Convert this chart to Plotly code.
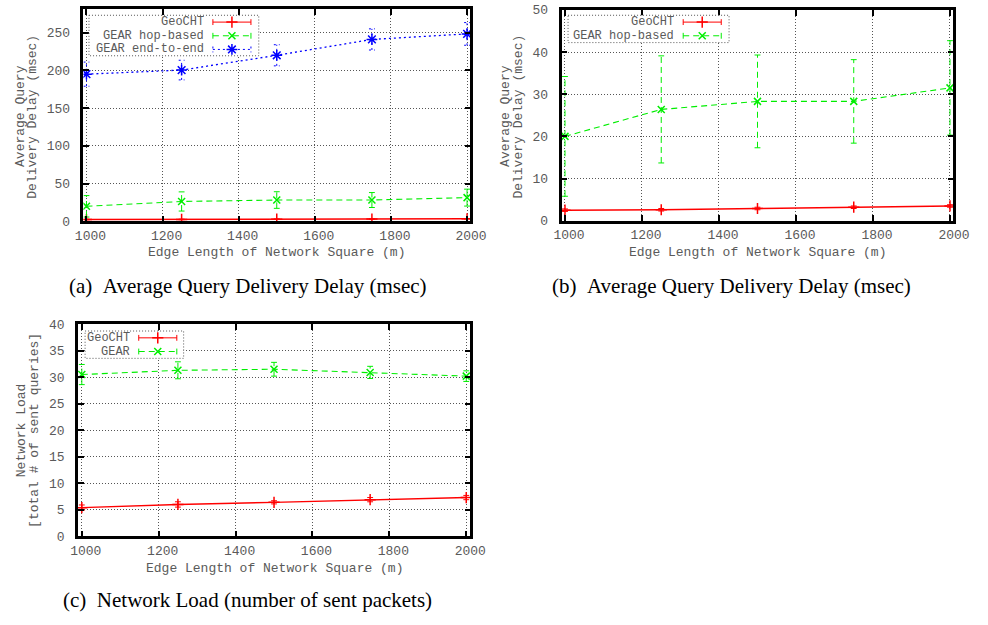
import plotly.graph_objects as go

# ---- data ----------------------------------------------------------------
edge_length = [1000, 1250, 1500, 1750, 2000]
x_tick_vals = [1000, 1200, 1400, 1600, 1800, 2000]

geocht_delay = [2.5, 2.6, 2.9, 3.2, 3.5]
geocht_delay_err = [0.3, 0.3, 0.3, 0.3, 0.3]
gear_hop_delay = [20.0, 26.4, 28.3, 28.3, 31.5]
gear_hop_delay_err = [14.2, 12.7, 11.0, 9.9, 11.2]
gear_e2e_delay = [195.0, 200.4, 220.0, 241.0, 248.3]
gear_e2e_delay_err = [16.0, 13.0, 14.0, 14.0, 15.0]

geocht_load = [5.4, 6.0, 6.4, 6.9, 7.3]
geocht_load_err = [0.5, 0.5, 0.3, 0.4, 0.4]
gear_load = [30.5, 31.3, 31.5, 30.9, 30.2]
gear_load_err = [1.9, 1.6, 1.3, 1.15, 1.0]

y_ticks_a = [0, 50, 100, 150, 200, 250]
y_ticks_b = [0, 10, 20, 30, 40, 50]
y_ticks_c = [0, 5, 10, 15, 20, 25, 30, 35, 40]

# ---- styling ---------------------------------------------------------------
W, H = 988, 625
MONO = "Liberation Mono, Courier New, monospace"
SERIF = "Liberation Serif, Times New Roman, serif"
TXT = "#5a5a5a"
GRID = "#555555"
GRID_DASH = "1px,2px"

RED, GREEN, BLUE = "#ff0000", "#00ee00", "#0000ff"
STYLE = {
    "geocht": dict(color=RED, dash="solid", width=1.4, symbol="cross-thin", size=8),
    "hop": dict(color=GREEN, dash="6px,4px", width=1.1, symbol="x-thin", size=7),
    "e2e": dict(color=BLUE, dash="2px,3px", width=1.3, symbol="asterisk", size=9),
}

# panel frames in pixels: left, right, top, bottom + data ranges
PANELS = {
    "a": dict(l=77.3, r=474.0, t=3.3, b=220.7, xr=[992, 2009], yr=[0, 281], yt=y_ticks_a),
    "b": dict(l=567.3, r=969.0, t=4.0, b=220.0, xr=[991, 2009], yr=[0, 50], yt=y_ticks_b),
    "c": dict(l=71.7, r=474.0, t=326.0, b=543.3, xr=[990, 2011], yr=[0, 40], yt=y_ticks_c),
}
AXES = {"a": ("x", "y"), "b": ("x2", "y2"), "c": ("x3", "y3")}


def fx(px):
    return px / W


def fy(py):
    return 1 - py / H


fig = go.Figure()


def add_series(panel, xs, ys, errs, key, name):
    st = STYLE[key]
    xa, ya = AXES[panel]
    p = PANELS[panel]
    cap = 3.0 * (p["xr"][1] - p["xr"][0]) / (p["r"] - p["l"])
    ex, ey = [], []
    for x, y, e in zip(xs, ys, errs):
        ex += [x, x, None, x - cap, x + cap, None, x - cap, x + cap, None]
        ey += [y - e, y + e, None, y - e, y - e, None, y + e, y + e, None]
    fig.add_trace(go.Scatter(
        x=ex, y=ey, mode="lines", xaxis=xa, yaxis=ya, showlegend=False,
        line=dict(color=st["color"], dash=st["dash"], width=1.0), hoverinfo="skip"))
    fig.add_trace(go.Scatter(
        x=xs, y=ys, mode="lines+markers", name=name, xaxis=xa, yaxis=ya, showlegend=False,
        line=dict(color=st["color"], dash=st["dash"], width=st["width"]),
        marker=dict(symbol=st["symbol"], size=st["size"],
                    line=dict(color=st["color"], width=1.5), color=st["color"])))


# (a) delay, all three schemes
add_series("a", edge_length, geocht_delay, geocht_delay_err, "geocht", "GeoCHT")
add_series("a", edge_length, gear_hop_delay, gear_hop_delay_err, "hop", "GEAR hop-based")
add_series("a", edge_length, gear_e2e_delay, gear_e2e_delay_err, "e2e", "GEAR end-to-end")
# (b) delay, zoomed
add_series("b", edge_length, geocht_delay, geocht_delay_err, "geocht", "GeoCHT")
add_series("b", edge_length, gear_hop_delay, gear_hop_delay_err, "hop", "GEAR hop-based")
# (c) network load
add_series("c", edge_length, geocht_load, geocht_load_err, "geocht", "GeoCHT")
add_series("c", edge_length, gear_load, gear_load_err, "hop", "GEAR")

# ---- axes ------------------------------------------------------------------
FS = 13
common = dict(
    showline=True, linewidth=2.5, linecolor="black", mirror="ticks",
    ticks="inside", ticklen=6, tickwidth=2, tickcolor="black",
    showgrid=True, gridcolor=GRID, griddash=GRID_DASH, gridwidth=1,
    zeroline=False, tickfont=dict(family=MONO, size=FS, color=TXT),
)
layout_axes = {}
for i, (k, p) in enumerate(PANELS.items()):
    sfx = "" if i == 0 else str(i + 1)
    layout_axes["xaxis" + sfx] = dict(
        common, domain=[fx(p["l"]), fx(p["r"])], range=p["xr"],
        tickvals=x_tick_vals, anchor="y" + sfx, ticklabelshift=4, ticklabelstandoff=0)
    layout_axes["yaxis" + sfx] = dict(
        common, domain=[fy(p["b"]), fy(p["t"])], range=p["yr"],
        tickvals=p["yt"], anchor="x" + sfx, ticklabelstandoff=8)

# overlay axis in pixel units for the key boxes
layout_axes["xaxis4"] = dict(domain=[0, 1], range=[0, W], visible=False, anchor="y4")
layout_axes["yaxis4"] = dict(domain=[0, 1], range=[H, 0], visible=False, anchor="x4")

annotations = []
label_font = dict(family=MONO, size=FS, color=TXT)
key_font = dict(family=MONO, size=12, color=TXT)


def add_key(box, text_right, sx0, sx1, rows):
    l, r, t, b = box
    fig.add_trace(go.Scatter(
        x=[l, r, r, l, l], y=[t, t, b, b, t], mode="lines", fill="toself",
        fillcolor="white", line=dict(color=GRID, width=1, dash=GRID_DASH),
        xaxis="x4", yaxis="y4", showlegend=False, hoverinfo="skip"))
    for label, key, ry in rows:
        st = STYLE[key]
        fig.add_trace(go.Scatter(
            x=[sx0, sx0, None, sx0, sx1, None, sx1, sx1],
            y=[ry - 3, ry + 3, None, ry, ry, None, ry - 3, ry + 3],
            mode="lines", line=dict(color=st["color"], dash=st["dash"], width=1.0),
            xaxis="x4", yaxis="y4", showlegend=False, hoverinfo="skip"))
        fig.add_trace(go.Scatter(
            x=[(sx0 + sx1) / 2], y=[ry], mode="markers",
            marker=dict(symbol=st["symbol"], size=st["size"], color=st["color"],
                        line=dict(color=st["color"], width=1.5)),
            xaxis="x4", yaxis="y4", showlegend=False, hoverinfo="skip"))
        annotations.append(dict(
            x=fx(text_right), y=fy(ry), xref="paper", yref="paper", text=label,
            showarrow=False, xanchor="right", yanchor="middle", font=key_font,
            height=12, borderpad=0))


add_key((83, 257, 9.5, 51), 202, 210, 249,
        [("GeoCHT", "geocht", 16.5), ("GEAR hop-based", "hop", 30.5), ("GEAR end-to-end", "e2e", 44.5)])
add_key((574, 739, 9.5, 37.5), 684, 692, 731,
        [("GeoCHT", "geocht", 16.5), ("GEAR hop-based", "hop", 30.5)])
add_key((79, 180, 333, 361), 126, 134, 173,
        [("GeoCHT", "geocht", 340), ("GEAR", "hop", 354)])


def text(px, py, s, font, angle=0, xanchor="center"):
    annotations.append(dict(
        x=fx(px), y=fy(py), xref="paper", yref="paper", text=s, showarrow=False,
        xanchor=xanchor, yanchor="middle", textangle=angle, font=font))


# axis titles
text(275, 253, "Edge Length of Network Square (m)", label_font)
text(768, 253, "Edge Length of Network Square (m)", label_font)
text(273, 576, "Edge Length of Network Square (m)", label_font)
text(13, 113, "Average Query", label_font, -90)
text(25, 113, "Delivery Delay (msec)", label_font, -90)
text(510, 113, "Average Query", label_font, -90)
text(523, 113, "Delivery Delay (msec)", label_font, -90)
text(14, 435, "Network Load", label_font, -90)
text(27, 435, "[total # of sent queries]", label_font, -90)

# captions
cap_font = dict(family=SERIF, size=21, color="black")
text(246, 287, "(a)&nbsp;&nbsp;Average Query Delivery Delay (msec)", cap_font)
text(742, 287, "(b)&nbsp;&nbsp;Average Query Delivery Delay (msec)", cap_font)
text(245, 609, "(c)&nbsp;&nbsp;Network Load (number of sent packets)", cap_font)

fig.update_layout(
    width=W, height=H, margin=dict(l=0, r=0, t=0, b=0),
    paper_bgcolor="white", plot_bgcolor="rgba(0,0,0,0)",
    showlegend=False, annotations=annotations, **layout_axes)

fig.write_html("out.html")
